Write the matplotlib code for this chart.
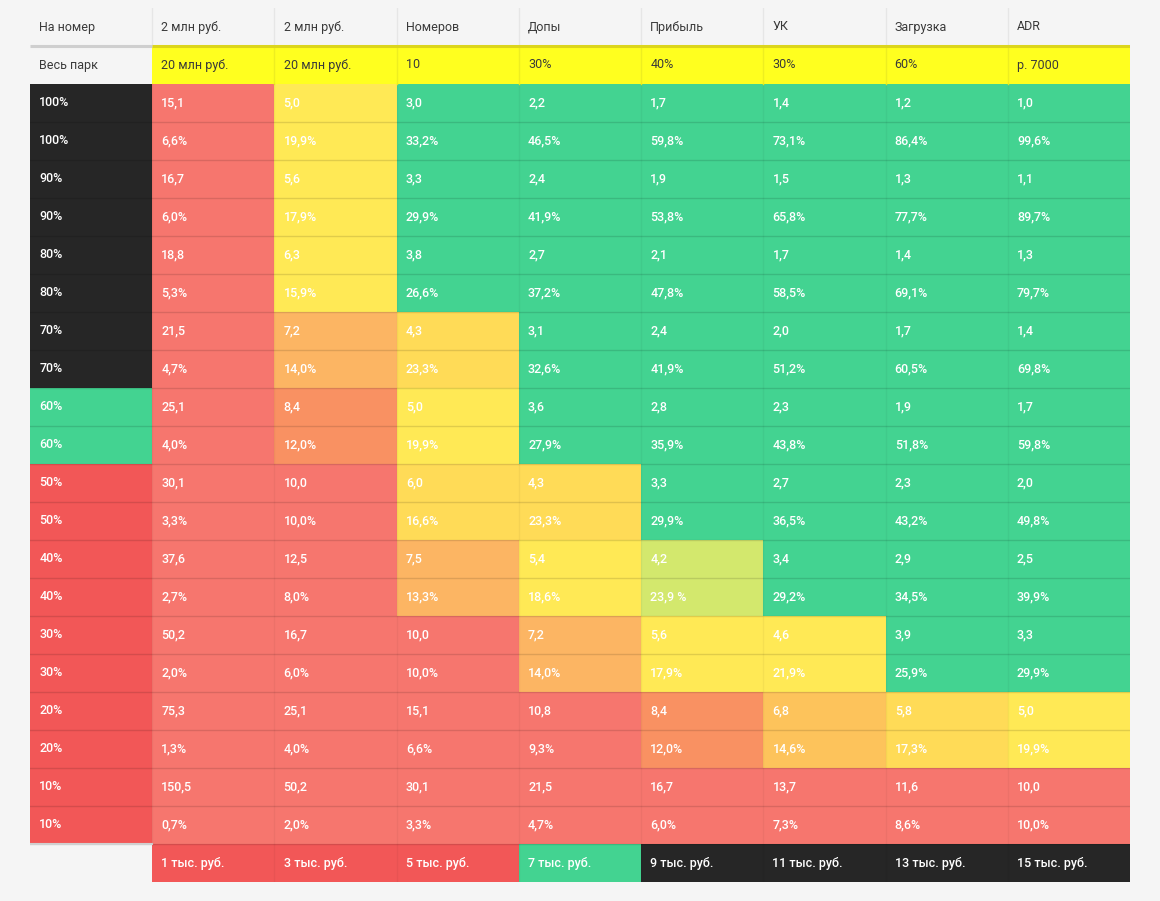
import matplotlib.pyplot as plt
from matplotlib.patches import Rectangle

# ---- data ----
headers = ["На номер", "2 млн руб.", "2 млн руб.", "Номеров", "Допы", "Прибыль", "УК", "Загрузка", "ADR"]
base_row = ["Весь парк", "20 млн руб.", "20 млн руб.", "10", "30%", "40%", "30%", "60%", "р. 7000"]
levels = ["100%", "90%", "80%", "70%", "60%", "50%", "40%", "30%", "20%", "10%"]
bottom_row = ["", "1 тыс. руб.", "3 тыс. руб.", "5 тыс. руб.", "7 тыс. руб.",
              "9 тыс. руб.", "11 тыс. руб.", "13 тыс. руб.", "15 тыс. руб."]

ratios = [
    ["15,1", "5,0", "3,0", "2,2", "1,7", "1,4", "1,2", "1,0"],
    ["16,7", "5,6", "3,3", "2,4", "1,9", "1,5", "1,3", "1,1"],
    ["18,8", "6,3", "3,8", "2,7", "2,1", "1,7", "1,4", "1,3"],
    ["21,5", "7,2", "4,3", "3,1", "2,4", "2,0", "1,7", "1,4"],
    ["25,1", "8,4", "5,0", "3,6", "2,8", "2,3", "1,9", "1,7"],
    ["30,1", "10,0", "6,0", "4,3", "3,3", "2,7", "2,3", "2,0"],
    ["37,6", "12,5", "7,5", "5,4", "4,2", "3,4", "2,9", "2,5"],
    ["50,2", "16,7", "10,0", "7,2", "5,6", "4,6", "3,9", "3,3"],
    ["75,3", "25,1", "15,1", "10,8", "8,4", "6,8", "5,8", "5,0"],
    ["150,5", "50,2", "30,1", "21,5", "16,7", "13,7", "11,6", "10,0"],
]
shares = [
    ["6,6%", "19,9%", "33,2%", "46,5%", "59,8%", "73,1%", "86,4%", "99,6%"],
    ["6,0%", "17,9%", "29,9%", "41,9%", "53,8%", "65,8%", "77,7%", "89,7%"],
    ["5,3%", "15,9%", "26,6%", "37,2%", "47,8%", "58,5%", "69,1%", "79,7%"],
    ["4,7%", "14,0%", "23,3%", "32,6%", "41,9%", "51,2%", "60,5%", "69,8%"],
    ["4,0%", "12,0%", "19,9%", "27,9%", "35,9%", "43,8%", "51,8%", "59,8%"],
    ["3,3%", "10,0%", "16,6%", "23,3%", "29,9%", "36,5%", "43,2%", "49,8%"],
    ["2,7%", "8,0%", "13,3%", "18,6%", "23,9 %", "29,2%", "34,5%", "39,9%"],
    ["2,0%", "6,0%", "10,0%", "14,0%", "17,9%", "21,9%", "25,9%", "29,9%"],
    ["1,3%", "4,0%", "6,6%", "9,3%", "12,0%", "14,6%", "17,3%", "19,9%"],
    ["0,7%", "2,0%", "3,3%", "4,7%", "6,0%", "7,3%", "8,6%", "10,0%"],
]

# colour class of each cell pair (one letter per column, per level)
grades = [
    "rygggggg",
    "rygggggg",
    "rygggggg",
    "rouggggg",
    "rnyggggg",
    "rruugggg",
    "rroylggg",
    "rrroyygg",
    "rrrrnpuy",
    "rrrrrrrr",
]
level_grades = ["k", "k", "k", "k", "g", "r2", "r2", "r2", "r2", "r2"]
bottom_grades = ["", "r2", "r2", "r2", "g", "k", "k", "k", "k"]

palette = {
    "r": "#f6766e", "r2": "#f25757", "y": "#ffe955", "u": "#ffdb57",
    "o": "#fcb563", "n": "#f99162", "p": "#fdc35b", "l": "#d3e86d",
    "g": "#43d391", "k": "#262626",
}

plt.rcParams['font.family'] = ['Roboto', 'DejaVu Sans']

fig = plt.figure(figsize=(11.6, 9.01), dpi=100, facecolor='#f5f5f5')
ax = fig.add_axes([30 / 1160, 19 / 901, 1100 / 1160, 874 / 901])
ax.set_xlim(0, 9)
ax.set_ylim(23, 0)
ax.axis('off')

pad = 0.075
fs = 9


def cell(c, r, color, text, tcolor='white', weight='medium'):
    if color:
        ax.add_patch(Rectangle((c, r), 1, 1, facecolor=color, edgecolor='none'))
    ax.text(c + pad, r + 0.5, text, color=tcolor, fontsize=fs, fontweight=weight,
            va='center', ha='left')


# header row
for c, h in enumerate(headers):
    cell(c, 0, None, h, tcolor='#3a3a3a', weight='normal')
for c in range(1, 9):
    ax.plot([c, c], [0, 1], color='#e6e6e6', lw=1)

# whole park row
for c, v in enumerate(base_row):
    cell(c, 1, '#ffff1f' if c > 0 else None, v, tcolor='#3a3a3a', weight='normal')
for c in range(2, 9):
    ax.plot([c, c], [1, 2], color='#eeee20', lw=1)
ax.plot([0, 1], [1, 1], color='#cfcfcf', lw=2.2, solid_capstyle='butt')
ax.plot([1, 9], [1, 1], color='#dcd51c', lw=2.2, solid_capstyle='butt')

# data rows
for i, lvl in enumerate(levels):
    for k, vals in enumerate([ratios[i], shares[i]]):
        r = 2 + 2 * i + k
        cell(0, r, palette[level_grades[i]], lvl)
        for j, v in enumerate(vals):
            cell(j + 1, r, palette[grades[i][j]], v)

# bottom row
for c, v in enumerate(bottom_row):
    if c == 0:
        continue
    cell(c, 22, palette[bottom_grades[c]], v)

# grid lines over the coloured area
for r in range(3, 23):
    ax.plot([0, 9], [r, r], color='black', alpha=0.12, lw=1)
ax.plot([0, 1], [22, 22], color='#d0d0d0', lw=1.5)
for c in range(1, 9):
    ax.plot([c, c], [2, 23 if c > 1 else 22], color='black', alpha=0.04, lw=1)

fig.savefig('out.png', dpi=100, facecolor=fig.get_facecolor())
